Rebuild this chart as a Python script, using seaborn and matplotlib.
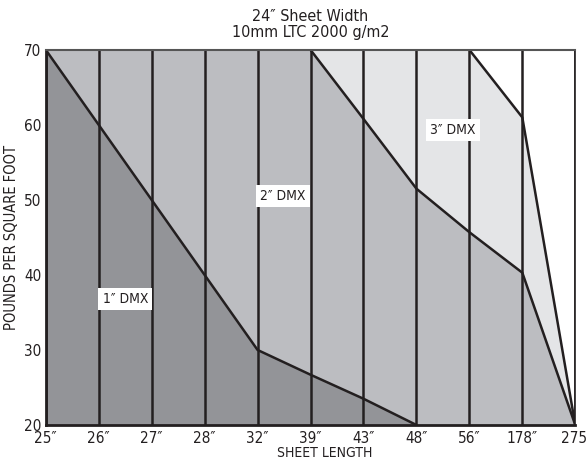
import matplotlib
matplotlib.use('Agg')
import matplotlib.pyplot as plt
import seaborn as sns
import pandas as pd

sns.set_style('white')
plt.rcParams['font.family'] = ['DejaVu Sans']
plt.rcParams['font.stretch'] = 'condensed'
plt.rcParams['text.color'] = '#231f20'
plt.rcParams['axes.labelcolor'] = '#231f20'
plt.rcParams['xtick.color'] = '#231f20'
plt.rcParams['ytick.color'] = '#231f20'

# sheet lengths (categorical x positions)
lengths = ['25\u2033', '26\u2033', '27\u2033', '28\u2033', '32\u2033', '39\u2033',
           '43\u2033', '48\u2033', '56\u2033', '178\u2033', '275\u2032']
# pounds per square foot limits for each DMX thickness
dmx1 = [70, 60, 50, 40, 30, 26.7, 23.5, 20, 20, 20, 20]
dmx2 = [70, 70, 70, 70, 70, 70, 60.8, 51.5, 45.7, 40.3, 20]
dmx3 = [70, 70, 70, 70, 70, 70, 70, 70, 70, 61, 20]

df = pd.DataFrame({'pos': range(len(lengths)), 'length': lengths,
                   'dmx1': dmx1, 'dmx2': dmx2, 'dmx3': dmx3})

fig, ax = plt.subplots(figsize=(5.87, 4.66), dpi=100)
fig.subplots_adjust(left=0.078, right=0.98, bottom=0.088, top=0.893)

# filled regions, lightest first
ax.fill_between(df['pos'], 20, df['dmx3'], color='#e4e5e7', lw=0, zorder=1)
ax.fill_between(df['pos'], 20, df['dmx2'], color='#bcbdc1', lw=0, zorder=1)
ax.fill_between(df['pos'], 20, df['dmx1'], color='#939498', lw=0, zorder=1)

# vertical grid lines at each sheet length
for p in df['pos']:
    ax.axvline(p, color='#231f20', lw=1.8, zorder=2)

# boundary lines
line_kw = dict(color='#231f20', lw=1.8, zorder=3, legend=False)
sns.lineplot(data=df[df['pos'] <= 7], x='pos', y='dmx1', ax=ax, **line_kw)
sns.lineplot(data=df[df['pos'] >= 5], x='pos', y='dmx2', ax=ax, **line_kw)
sns.lineplot(data=df[df['pos'] >= 8], x='pos', y='dmx3', ax=ax, **line_kw)

# region labels
box = dict(facecolor='white', edgecolor='none', pad=3)
ax.text(1.5, 36.8, '1\u2033 DMX', ha='center', va='center', fontsize=10, bbox=box, zorder=4)
ax.text(4.48, 50.5, '2\u2033 DMX', ha='center', va='center', fontsize=10, bbox=box, zorder=4)
ax.text(7.69, 59.3, '3\u2033 DMX', ha='center', va='center', fontsize=10, bbox=box, zorder=4)

ax.set_xlim(0, 10)
ax.set_ylim(20, 70)
ax.set_xticks(df['pos'])
ax.set_xticklabels(df['length'], fontsize=11)
ax.set_yticks([20, 30, 40, 50, 60, 70])
ax.set_yticklabels([20, 30, 40, 50, 60, 70], fontsize=11)
ax.tick_params(axis='x', length=0, pad=4)
ax.tick_params(axis='y', length=0, pad=3)
ax.set_xlabel('SHEET LENGTH', fontsize=10, labelpad=0)
ax.xaxis.set_label_coords(0.527, -0.055)
ax.set_ylabel('POUNDS PER SQUARE FOOT', fontsize=10.5, labelpad=4)
ax.set_title('24\u2033 Sheet Width\n10mm LTC 2000 g/m2', fontsize=11.5, linespacing=1.1, pad=9)

for side in ['left', 'bottom']:
    ax.spines[side].set_color('#231f20')
    ax.spines[side].set_linewidth(2)
ax.spines['top'].set_color('#555555')
ax.spines['top'].set_linewidth(1.5)
ax.spines['right'].set_color('#231f20')
ax.spines['right'].set_linewidth(1.2)
for s in ax.spines.values():
    s.set_zorder(5)

plt.savefig('out.png', dpi=100)
